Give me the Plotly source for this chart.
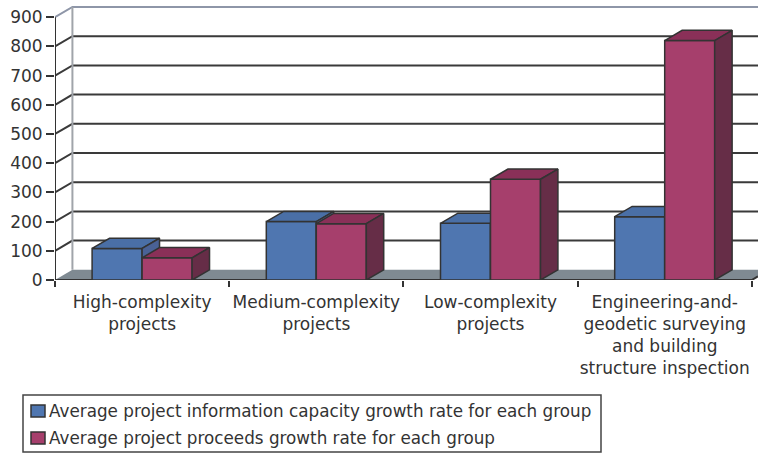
import plotly.graph_objects as go

categories = [
    "High-complexity<br>projects",
    "Medium-complexity<br>projects",
    "Low-complexity<br>projects",
    "Engineering-and-<br>geodetic surveying<br>and building<br>structure inspection",
]
capacity_growth = [108, 200, 194, 217]
proceeds_growth = [76, 193, 345, 820]
y_ticks = [0, 100, 200, 300, 400, 500, 600, 700, 800, 900]
series_names = [
    "Average project information capacity growth rate for each group",
    "Average project proceeds growth rate for each group",
]

W, H = 758, 453
LEFT, BOTTOM = 55, 173
X_MAX = (W - LEFT) / 174.2
Y_MAX = (H - BOTTOM) / 29.2 * 100
DX, DY = 0.1, 35          # oblique depth of the 3D projection, in data units
BAR_W = 0.287

INK = "#333333"
FONT = "DejaVu Sans"
BLUE = ("#4F76B0", "#4A6FA6", "#4A6296")   # front, top, side
RED = ("#A63F6C", "#8A3058", "#662D47")


def px(x):
    return (x - LEFT) / (W - LEFT)


def py(y):
    return (H - BOTTOM - y) / (H - BOTTOM)


fig = go.Figure()


def line(xs, ys, color=INK, width=2):
    fig.add_trace(go.Scatter(x=xs, y=ys, mode="lines", line=dict(color=color, width=width),
                             hoverinfo="skip", showlegend=False))


# Floor of the chart box
fig.add_trace(go.Scatter(x=[0, DX, 4 + DX, 4, 0], y=[0, DY, DY, 0, 0], mode="lines", fill="toself",
                         fillcolor="#7F8A92", line=dict(width=0), hoverinfo="skip", showlegend=False))

# Back wall grid and its diagonals to the value axis
for v in y_ticks[1:-1]:
    line([0, DX, X_MAX], [v, v + DY, v + DY], "#3A3A3A", 2)
line([0, DX, X_MAX], [900, 900 + DY, 900 + DY], "#8E96A8", 2)
line([DX, DX], [DY, 900 + DY], "#A0A4AA", 2)
line([0, 0], [0, 900], INK, 2)
line([0, 4, 4 + DX * 0.35], [0, 0, DY * 0.35], INK, 2)


def add_series(values, colors, offset, name, suffix):
    xa, ya = "x" + suffix, "y" + suffix
    fig.add_trace(go.Bar(x=[i + 0.5 for i in range(len(values))], y=values, width=BAR_W, offset=offset,
                         marker=dict(color=colors[0], line=dict(color=INK, width=1.5)),
                         name=name, showlegend=False, xaxis=xa, yaxis=ya))
    for i, v in enumerate(values):
        x0 = i + 0.5 + offset
        x1 = x0 + BAR_W
        faces = [
            ([x0, x1, x1 + DX, x0 + DX, x0], [v, v, v + DY, v + DY, v], colors[1]),
            ([x1, x1 + DX, x1 + DX, x1, x1], [0, DY, v + DY, v, 0], colors[2]),
        ]
        for xs, ys, c in faces:
            fig.add_trace(go.Scatter(x=xs, y=ys, mode="lines", fill="toself", fillcolor=c,
                                     line=dict(color=INK, width=1.5), hoverinfo="skip",
                                     showlegend=False, xaxis=xa, yaxis=ya))


add_series(capacity_growth, BLUE, -BAR_W, series_names[0], "2")
add_series(proceeds_growth, RED, 0, series_names[1], "3")

overlay_x = dict(range=[0, X_MAX], overlaying="x", visible=False, fixedrange=True)
overlay_y = dict(range=[0, Y_MAX], overlaying="y", visible=False, fixedrange=True)

# Legend box
shapes = [dict(type="rect", xref="paper", yref="paper", x0=px(23), x1=px(601), y0=py(395), y1=py(452),
               line=dict(color="#444444", width=1.5), fillcolor="white")]
annotations = []
for name, color, top, mid in [(series_names[0], BLUE[0], 405, 411), (series_names[1], RED[0], 432, 438)]:
    shapes.append(dict(type="rect", xref="paper", yref="paper", x0=px(31), x1=px(45), y0=py(top), y1=py(top + 12),
                       line=dict(color=INK, width=1.5), fillcolor=color))
    annotations.append(dict(text=name, xref="paper", yref="paper", x=px(47), y=py(mid), xanchor="left",
                            yanchor="middle", showarrow=False, font=dict(family=FONT, size=16.8, color=INK)))

fig.update_layout(
    width=W, height=H, margin=dict(l=LEFT, r=0, t=0, b=BOTTOM, pad=0),
    paper_bgcolor="white", plot_bgcolor="white", showlegend=False, barmode="overlay",
    font=dict(family=FONT, color=INK),
    xaxis=dict(range=[0, X_MAX], tickmode="array", tickvals=[i + 0.5 for i in range(4)], ticktext=categories,
               ticks="", showgrid=False, zeroline=False, showline=False, fixedrange=True,
               tickfont=dict(family=FONT, size=17, color=INK), ticklabelstandoff=10,
               minor=dict(tickmode="array", tickvals=[0, 1, 2, 3, 4], ticks="outside", ticklen=6,
                          tickwidth=2, tickcolor=INK, showgrid=False)),
    yaxis=dict(range=[0, Y_MAX], tickmode="array", tickvals=y_ticks, ticks="outside", ticklen=8, tickwidth=2,
               tickcolor=INK, showgrid=False, zeroline=False, showline=False, fixedrange=True,
               tickfont=dict(family=FONT, size=17, color=INK)),
    xaxis2=overlay_x, yaxis2=overlay_y, xaxis3=overlay_x, yaxis3=overlay_y,
    shapes=shapes, annotations=annotations,
)

fig.write_html("out.html")
